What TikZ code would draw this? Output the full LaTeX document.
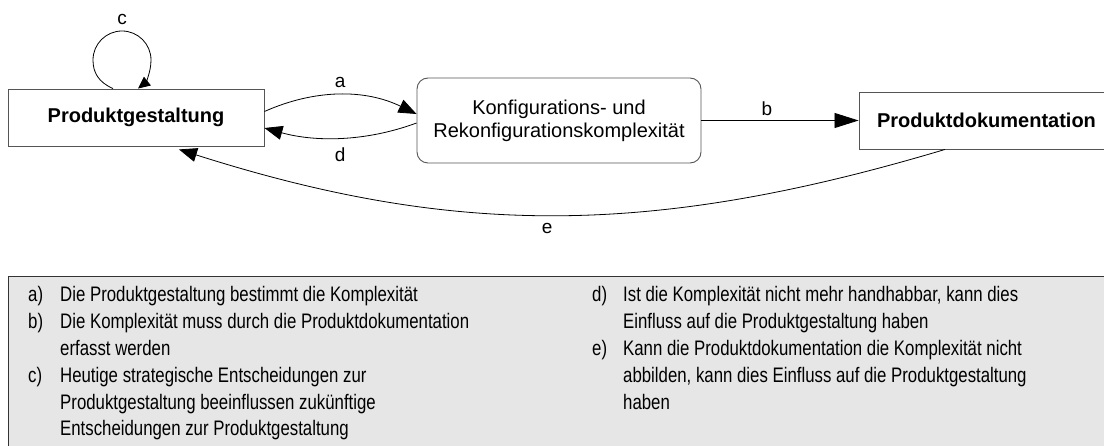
\documentclass[tikz,border=0pt]{standalone}
\usepackage{fontspec}
\setmainfont{Liberation Sans}
\newfontfamily\legendfont{Liberation Sans}[FakeStretch=0.8]
\usetikzlibrary{arrows.meta}
\definecolor{boxline}{HTML}{555555}
\definecolor{legendfill}{HTML}{E6E6E6}
\definecolor{legendline}{HTML}{333333}

\begin{document}
\begin{tikzpicture}[x=1pt,y=-1pt,
  box/.style={draw=boxline, line width=0.9pt, fill=white, inner sep=0pt,
    font=\fontsize{20}{23}\selectfont},
  boldbox/.style={box, font=\bfseries\fontsize{20}{23}\selectfont},
  flow/.style={draw=black, line width=0.8pt, -{Triangle[length=18pt,width=14pt]}},
  lbl/.style={font=\fontsize{19}{22}\selectfont, inner sep=0pt},
  legendtext/.style={inner sep=0pt, anchor=base west,
    font=\legendfont\fontsize{21}{26.8}\selectfont}
]
\clip (0,0) rectangle (1104,446);
\fill[white] (0,0) rectangle (1104,446);

% legend panel
\node[draw=legendline, line width=0.9pt, fill=legendfill, anchor=north west,
  minimum width=1110pt, minimum height=180pt, inner sep=0pt] (legend) at (8,276) {};

\node[legendtext] (legleft) at (28,302) {%
  \begin{tabular}[t]{@{}p{32pt}@{}l@{}}
  a) & Die Produktgestaltung bestimmt die Komplexität\\
  b) & Die Komplexität muss durch die Produktdokumentation\\
     & erfasst werden\\
  c) & Heutige strategische Entscheidungen zur\\
     & Produktgestaltung beeinflussen zukünftige\\
     & Entscheidungen zur Produktgestaltung
  \end{tabular}};

\node[legendtext] (legright) at (592,302) {%
  \begin{tabular}[t]{@{}p{31pt}@{}l@{}}
  d) & Ist die Komplexität nicht mehr handhabbar, kann dies\\
     & Einfluss auf die Produktgestaltung haben\\
  e) & Kann die Produktdokumentation die Komplexität nicht\\
     & abbilden, kann dies Einfluss auf die Produktgestaltung\\
     & haben
  \end{tabular}};

% main blocks
\node[boldbox, minimum width=256pt, minimum height=57pt] (pg) at (136,117.5) {Produktgestaltung};
\node[box, rounded corners=11pt, minimum width=284pt, minimum height=85pt, align=center] (kk)
  at (559,120.5) {Konfigurations- und\\Rekonfigurationskomplexität};
\node[boldbox, minimum width=255pt, minimum height=57pt] (pd) at (986.5,120.5) {Produktdokumentation};

% a: design drives complexity
\draw[flow] ([yshift=6pt]pg.east) .. controls (315,89) and (365,89) .. ([yshift=6.5pt]kk.west)
  node[lbl, midway, yshift=12pt] (la) {a};
% d: complexity feeds back to design
\draw[flow] ([yshift=-2.5pt]kk.west) .. controls (365,142) and (315,142) .. ([yshift=-10.5pt]pg.east)
  node[lbl, midway, yshift=-17pt] (ld) {d};
% b: complexity captured by documentation
\draw[flow, -{Triangle[length=24pt,width=15pt]}] (kk.east) -- (pd.west)
  node[lbl, midway, xshift=-13pt, yshift=11.5pt] (lb) {b};
% e: documentation feeds back to design
\draw[flow] ([xshift=-41.5pt]pd.south) .. controls (652,237) and (454,237) .. ([xshift=43pt,yshift=-3pt]pg.south)
  node[lbl, midway, xshift=-8pt, yshift=-13pt] (le) {e};
% c: self loop on design
\draw[flow, -{Triangle[length=12pt,width=11pt]}] ([xshift=-23pt]pg.north)
  .. controls (98,82) and (93,72) .. (93,60)
  .. controls (93,44) and (106,31) .. (122,31) node[lbl, yshift=12pt] (lc) {c}
  .. controls (138,31) and (151,44) .. (151,60)
  .. controls (151,73) and (145,83) .. ([xshift=2pt]pg.north);
\end{tikzpicture}
\end{document}
